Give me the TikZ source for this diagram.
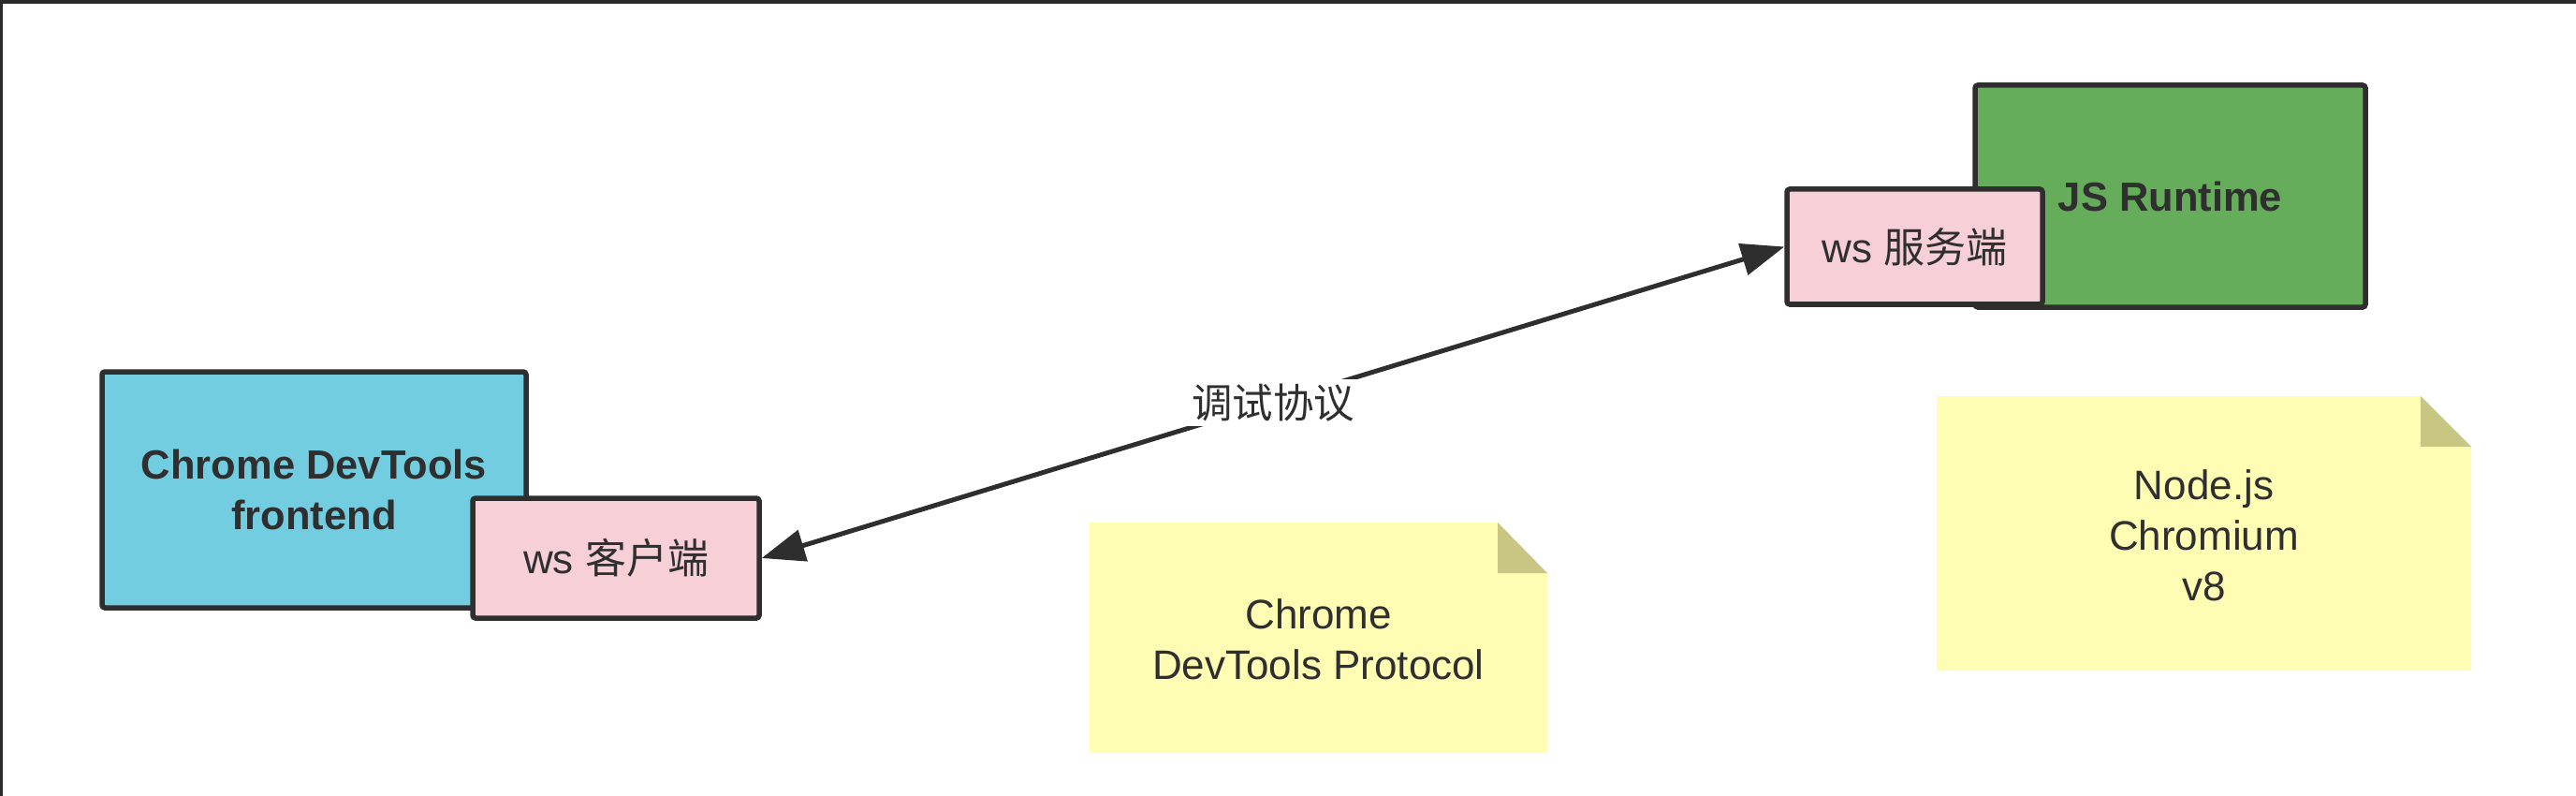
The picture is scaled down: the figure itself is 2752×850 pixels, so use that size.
\documentclass[tikz,border=0pt]{standalone}
\usepackage{fontspec}
\setmainfont{Liberation Sans}
\newfontfamily\cjk{Noto Sans CJK SC}
\usetikzlibrary{arrows.meta}
\definecolor{frameC}{HTML}{2A2A2A}
\definecolor{borderC}{HTML}{2E2E2E}
\definecolor{textC}{HTML}{2F2F2F}
\definecolor{blueC}{HTML}{72CDE0}
\definecolor{greenC}{HTML}{66AD5B}
\definecolor{pinkC}{HTML}{F6D0D6}
\definecolor{noteC}{HTML}{FFFCB3}
\definecolor{foldC}{HTML}{C9C684}
\tikzset{
  boxbase/.style={draw=borderC, line width=5.5pt, rounded corners=3pt, inner sep=0pt, text=textC, align=center},
  bigbox/.style={boxbase, font=\bfseries\fontsize{43.5}{54}\selectfont},
  wsbox/.style={boxbase, fill=pinkC, font=\fontsize{44}{54}\selectfont},
  notetext/.style={text=textC, align=center, inner sep=0pt, font=\fontsize{44}{54}\selectfont},
  conn/.style={draw=borderC, line width=5pt, {Triangle[length=46pt,width=34pt]}-{Triangle[length=46pt,width=34pt]}},
  lbl/.style={fill=white, inner sep=5pt, text=textC, font=\cjk\fontsize{43.5}{50}\selectfont}
}
\begin{document}
\begin{tikzpicture}[x=1pt,y=-1pt]
\useasboundingbox (0,0) rectangle (2752,850);
\fill[white] (0,0) rectangle (2752,850);
% screenshot frame
\fill[frameC] (0,0) rectangle (2752,4);
\fill[frameC] (0,0) rectangle (2.5,850);

% notes
\fill[noteC] (1164,558) -- (1600,558) -- (1653,612) -- (1653,804) -- (1164,804) -- cycle;
\fill[foldC] (1600,558) -- (1600,612) -- (1653,612) -- cycle;
\node[notetext] (cdp) at (1408.5,683) {Chrome\\DevTools Protocol};

\fill[noteC] (2069,423) -- (2586,423) -- (2640,477) -- (2640,716) -- (2069,716) -- cycle;
\fill[foldC] (2586,423) -- (2586,477) -- (2640,477) -- cycle;
\node[notetext] (rt) at (2354.5,572) {Node.js\\Chromium\\v8};

% boxes
\node[bigbox, fill=blueC, minimum width=453pt, minimum height=252pt] (devtools) at (335.5,523) {Chrome DevTools\\frontend};
\node[wsbox, minimum width=306pt, minimum height=128pt] (client) at (658,596) {ws {\cjk 客户端}};

\node[bigbox, fill=greenC, minimum width=417pt, minimum height=237pt] (jsrt) at (2318.5,209.5) {JS Runtime};
\node[wsbox, minimum width=273pt, minimum height=123pt] (server) at (2045.5,263.5) {ws {\cjk 服务端}};

% connector
\draw[conn] (client.east) -- (server.west) node[lbl, midway] (proto) {调试协议};
\end{tikzpicture}
\end{document}
